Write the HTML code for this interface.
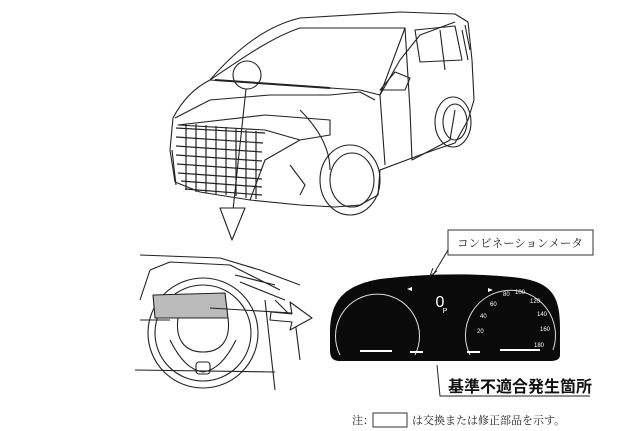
<!DOCTYPE html>
<html><head><meta charset="utf-8"><style>
html,body{margin:0;padding:0;background:#fff;}
svg{display:block;}
</style></head><body>
<svg width="623" height="431" viewBox="0 0 623 431" xmlns="http://www.w3.org/2000/svg" font-family="Liberation Sans, Noto Sans CJK JP, sans-serif">
<g fill="none" stroke="#222" stroke-width="1.1" stroke-linejoin="round">
<!-- car body -->
<path d="M173,118 C185,95 200,85 210,80 C240,45 270,25 300,18 L400,12 L455,14 L468,22 L472,60 L474,100 L468,120 L455,143 L440,148 L420,155 L380,170 L378,195 L360,205 L335,207 L300,205 L250,200 L200,192 L175,182 L170,150 Z"/>
<path d="M210,80 L360,90 L380,95 L400,60 L420,35 L455,22"/>
<path d="M210,80 C240,60 270,38 300,28 L405,28 L380,95"/>
<path d="M175,118 L210,100 L270,95 L330,95 L360,92 L375,100"/>
<path d="M178,125 L265,115 L330,120 L330,135 L300,140 L265,130 Z"/>
<path d="M250,200 L265,160 L300,140"/>
<path d="M380,95 L385,165"/>
<path d="M405,28 L410,110 L412,160 L450,140 L455,110"/>
<path d="M415,30 L455,26 L462,60 L420,62 Z"/>
<path d="M440,30 L445,70"/>
<path d="M462,30 L468,60 M470,50 L465,25"/>
<path d="M380,90 L395,72 L410,78 L405,90 Z"/>
<path d="M300,110 C320,130 330,150 330,170"/>
<path d="M290,165 L305,185 L300,195 M172,150 L176,185"/>
<!-- grille -->
<g stroke-width="1.2">
<path d="M176,128 L265,133 M176,137 L263,143 M176,146 L262,152 M176,155 L262,161 M177,164 L262,170 M178,173 L262,179 M181,181 L262,187 M185,189 L262,195"/>
<path d="M186,124 L186,190 M196,124 L196,192 M206,125 L206,193 M216,126 L216,194 M226,127 L226,195 M236,128 L236,196 M246,130 L246,198 M256,131 L256,199"/>
</g>
<!-- wheels -->
<ellipse cx="350" cy="180" rx="30" ry="35"/>
<ellipse cx="352" cy="180" rx="22" ry="27"/>
<ellipse cx="453" cy="122" rx="18" ry="25"/>
<ellipse cx="455" cy="122" rx="12" ry="18"/>
<!-- wiper -->
<path d="M215,80 L330,88" stroke-width="2"/>
<circle cx="247" cy="75" r="14"/>
<!-- down arrow -->
<path d="M246,89 L233,210"/>
<path d="M220,208 L245,208 L232,240 Z" fill="#fff"/>
<!-- steering wheel area -->
<path d="M140,255 L220,258 L260,270 L300,285 M150,270 L170,262 L230,265 L280,290 M140,300 L150,270 M140,320 L170,320 M135,370 L275,372 M265,300 L275,390 M275,300 L295,320 L300,360 M235,275 L275,285 M240,282 L285,300"/>
<circle cx="203" cy="333" r="55"/>
<circle cx="203" cy="333" r="48"/>
<path d="M153,295 L225,293 L228,318 L155,318 Z" fill="#bbb"/>
<path d="M178,318 C175,340 185,352 203,352 C221,352 231,340 228,318"/>
<path d="M170,340 C180,360 190,370 203,372 C216,370 226,360 236,340"/>
<rect x="196" y="362" width="14" height="12" rx="3"/>
<path d="M210,308 L292,313"/>
<path d="M290,302 L312,318 L290,330 L292,322 L270,320 L271,312 L292,314 Z" fill="#fff"/>
</g>
<!-- cluster -->
<path d="M330,332 C330,300 345,285 380,279 C430,273 480,273 520,278 C555,283 560,300 560,330 L560,355 C560,360 555,361 550,361 L340,361 C333,361 330,358 330,350 Z" fill="#0a0a0a"/>
<g fill="none" stroke="#ddd" stroke-width="1">
<path d="M340,355 A42,42 0 1,1 415,355"/>
<path d="M470,355 A45,45 0 1,1 553,350"/>
</g>
<g fill="#fff">
<rect x="360" y="350" width="32" height="2"/><rect x="410" y="351" width="13" height="2"/>
<rect x="467" y="351" width="13" height="2"/><rect x="500" y="349" width="40" height="2"/>
<path d="M407,289 L412,287 L412,291 Z"/><path d="M493,290 L488,288 L488,292 Z"/>
</g>
<text x="440" y="307" fill="#fff" font-size="16" text-anchor="middle">0</text>
<text x="445" y="313" fill="#fff" font-size="7" text-anchor="middle">P</text>
<g fill="#fff" font-size="6">
<text x="490" y="306">60</text><text x="503" y="296">80</text><text x="515" y="294">100</text>
<text x="530" y="303">120</text><text x="537" y="316">140</text><text x="540" y="331">160</text>
<text x="534" y="347">180</text><text x="480" y="318">40</text><text x="477" y="333">20</text>
</g>
<!-- labels -->
<rect x="448" y="230" width="145" height="25" fill="#fff" stroke="#333" stroke-width="1"/>
<text x="520" y="247" font-size="11.5" text-anchor="middle" fill="#222" font-family="Liberation Serif, Noto Serif CJK SC, serif">コンビネーションメータ</text>
<path d="M448,250 L433,275" stroke="#222" fill="none"/>
<path d="M430,276 L433,268 M430,276 L437,271" stroke="#222" fill="none"/>
<text x="448" y="392" font-size="16" font-weight="bold" fill="#111">基準不適合発生箇所</text>
<path d="M590,396 L440,396 L437,365" stroke="#222" fill="none"/>
<text x="352" y="424" font-size="11" fill="#222" font-family="Liberation Serif, Noto Serif CJK SC, serif">注：</text>
<rect x="373" y="413" width="34" height="14" fill="#fff" stroke="#333"/>
<text x="412" y="424" font-size="11" fill="#222" font-family="Liberation Serif, Noto Serif CJK SC, serif">は交換または修正部品を示す。</text>
</svg>
</body></html>
